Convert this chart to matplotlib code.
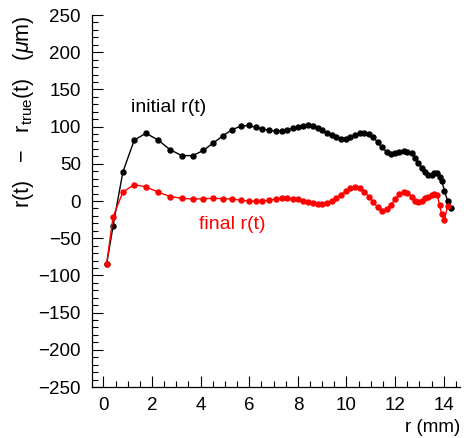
import matplotlib
matplotlib.use("Agg")
import matplotlib.pyplot as plt
from matplotlib.ticker import MultipleLocator

plt.rcParams['font.family'] = ['Liberation Sans', 'DejaVu Sans']
plt.rcParams['mathtext.fontset'] = 'custom'
plt.rcParams['mathtext.rm'] = 'Liberation Sans'
plt.rcParams['mathtext.it'] = 'Liberation Sans:italic'

# radius (mm)
r = [0.13, 0.40, 0.80, 1.27, 1.75, 2.25, 2.74, 3.22, 3.68, 4.11, 4.52, 4.93,
     5.30, 5.65, 5.97, 6.26, 6.53, 6.82, 7.09, 7.33, 7.57, 7.79, 7.99, 8.20,
     8.40, 8.61, 8.81, 9.00, 9.20, 9.39, 9.58, 9.77, 9.97, 10.16, 10.35, 10.54,
     10.73, 10.93, 11.11, 11.28, 11.47, 11.65, 11.83, 12.01, 12.18, 12.35,
     12.51, 12.68, 12.82, 12.96, 13.10, 13.23, 13.37, 13.50, 13.62, 13.74,
     13.83, 13.92, 14.03, 14.16, 14.30]

initial = [-85, -33, 39, 82, 91, 82, 69, 61, 61, 68, 78, 88,
           96, 100.5, 101.5, 99, 97, 95, 94, 94, 95.5, 97.5, 99, 100.5,
           101.5, 100.5, 98, 95, 91.5, 88.5, 85.5, 83.5, 84, 86, 88.5, 91,
           92, 90, 85.5, 79, 72, 66, 63, 64, 65.5, 67,
           66.5, 64.5, 58, 50.5, 44, 38.5, 35.5, 35.5, 38, 37,
           32, 27, 14, 0, -9]

final = [-85, -21, 12, 22, 19, 12, 6, 3.6, 2.7, 3, 3.6, 3,
         2.7, 1, 0, -0.5, 0, 1, 2.7, 3.6, 3.6, 3, 2.3, 0.4,
         -1.3, -3, -4.4, -4.4, -3, -0.4, 3.6, 8, 13.4, 17, 18.4, 17,
         12.5, 5.8, -1.7, -8.4, -13, -11, -5, 3, 9.5, 12.5,
         11, 6, 0.5, -2, 0, 3.5, 6, 8.5, 9.5, 8,
         -6, -18, -25, -7]

fig = plt.figure(figsize=(4.72, 4.38), dpi=100)
ax = fig.add_axes([92/472, (438-387)/438, (460-92)/472, (387-15)/438])

ax.plot(r, initial, color='black', lw=1.0, marker='o', ms=3.6, zorder=2)
ax.plot(r[:len(final)], final, color='red', lw=1.0, marker='o', ms=3.6, zorder=3)

ax.set_xlim(-0.47, 14.67)
ax.set_ylim(-250, 250)

for s in ['top', 'right']:
    ax.spines[s].set_visible(False)
for s in ['left', 'bottom']:
    ax.spines[s].set_linewidth(0.9)

ax.xaxis.set_major_locator(MultipleLocator(2))
ax.xaxis.set_minor_locator(MultipleLocator(0.5))
ax.yaxis.set_major_locator(MultipleLocator(50))
ax.yaxis.set_minor_locator(MultipleLocator(10))
ax.tick_params(which='both', direction='in', labelsize=13.5, width=0.8)
ax.tick_params(which='major', length=8, pad=7)
ax.tick_params(which='minor', length=4)
ax.tick_params(axis='y', which='major', pad=8)

ax.set_ylabel(r'r(t)   $-$   r$_{\rm true}$(t)   ($\mu$m)', fontsize=15.5, loc='top', labelpad=2)
ax.set_xlabel('r (mm)', fontsize=13.5, loc='right')

ax.text(1.15, 126, 'initial r(t)', color='black', fontsize=14, ha='left', va='center')
ax.text(3.95, -32, 'final r(t)', color='red', fontsize=14, ha='left', va='center')

fig.savefig('out.png', dpi=100)
